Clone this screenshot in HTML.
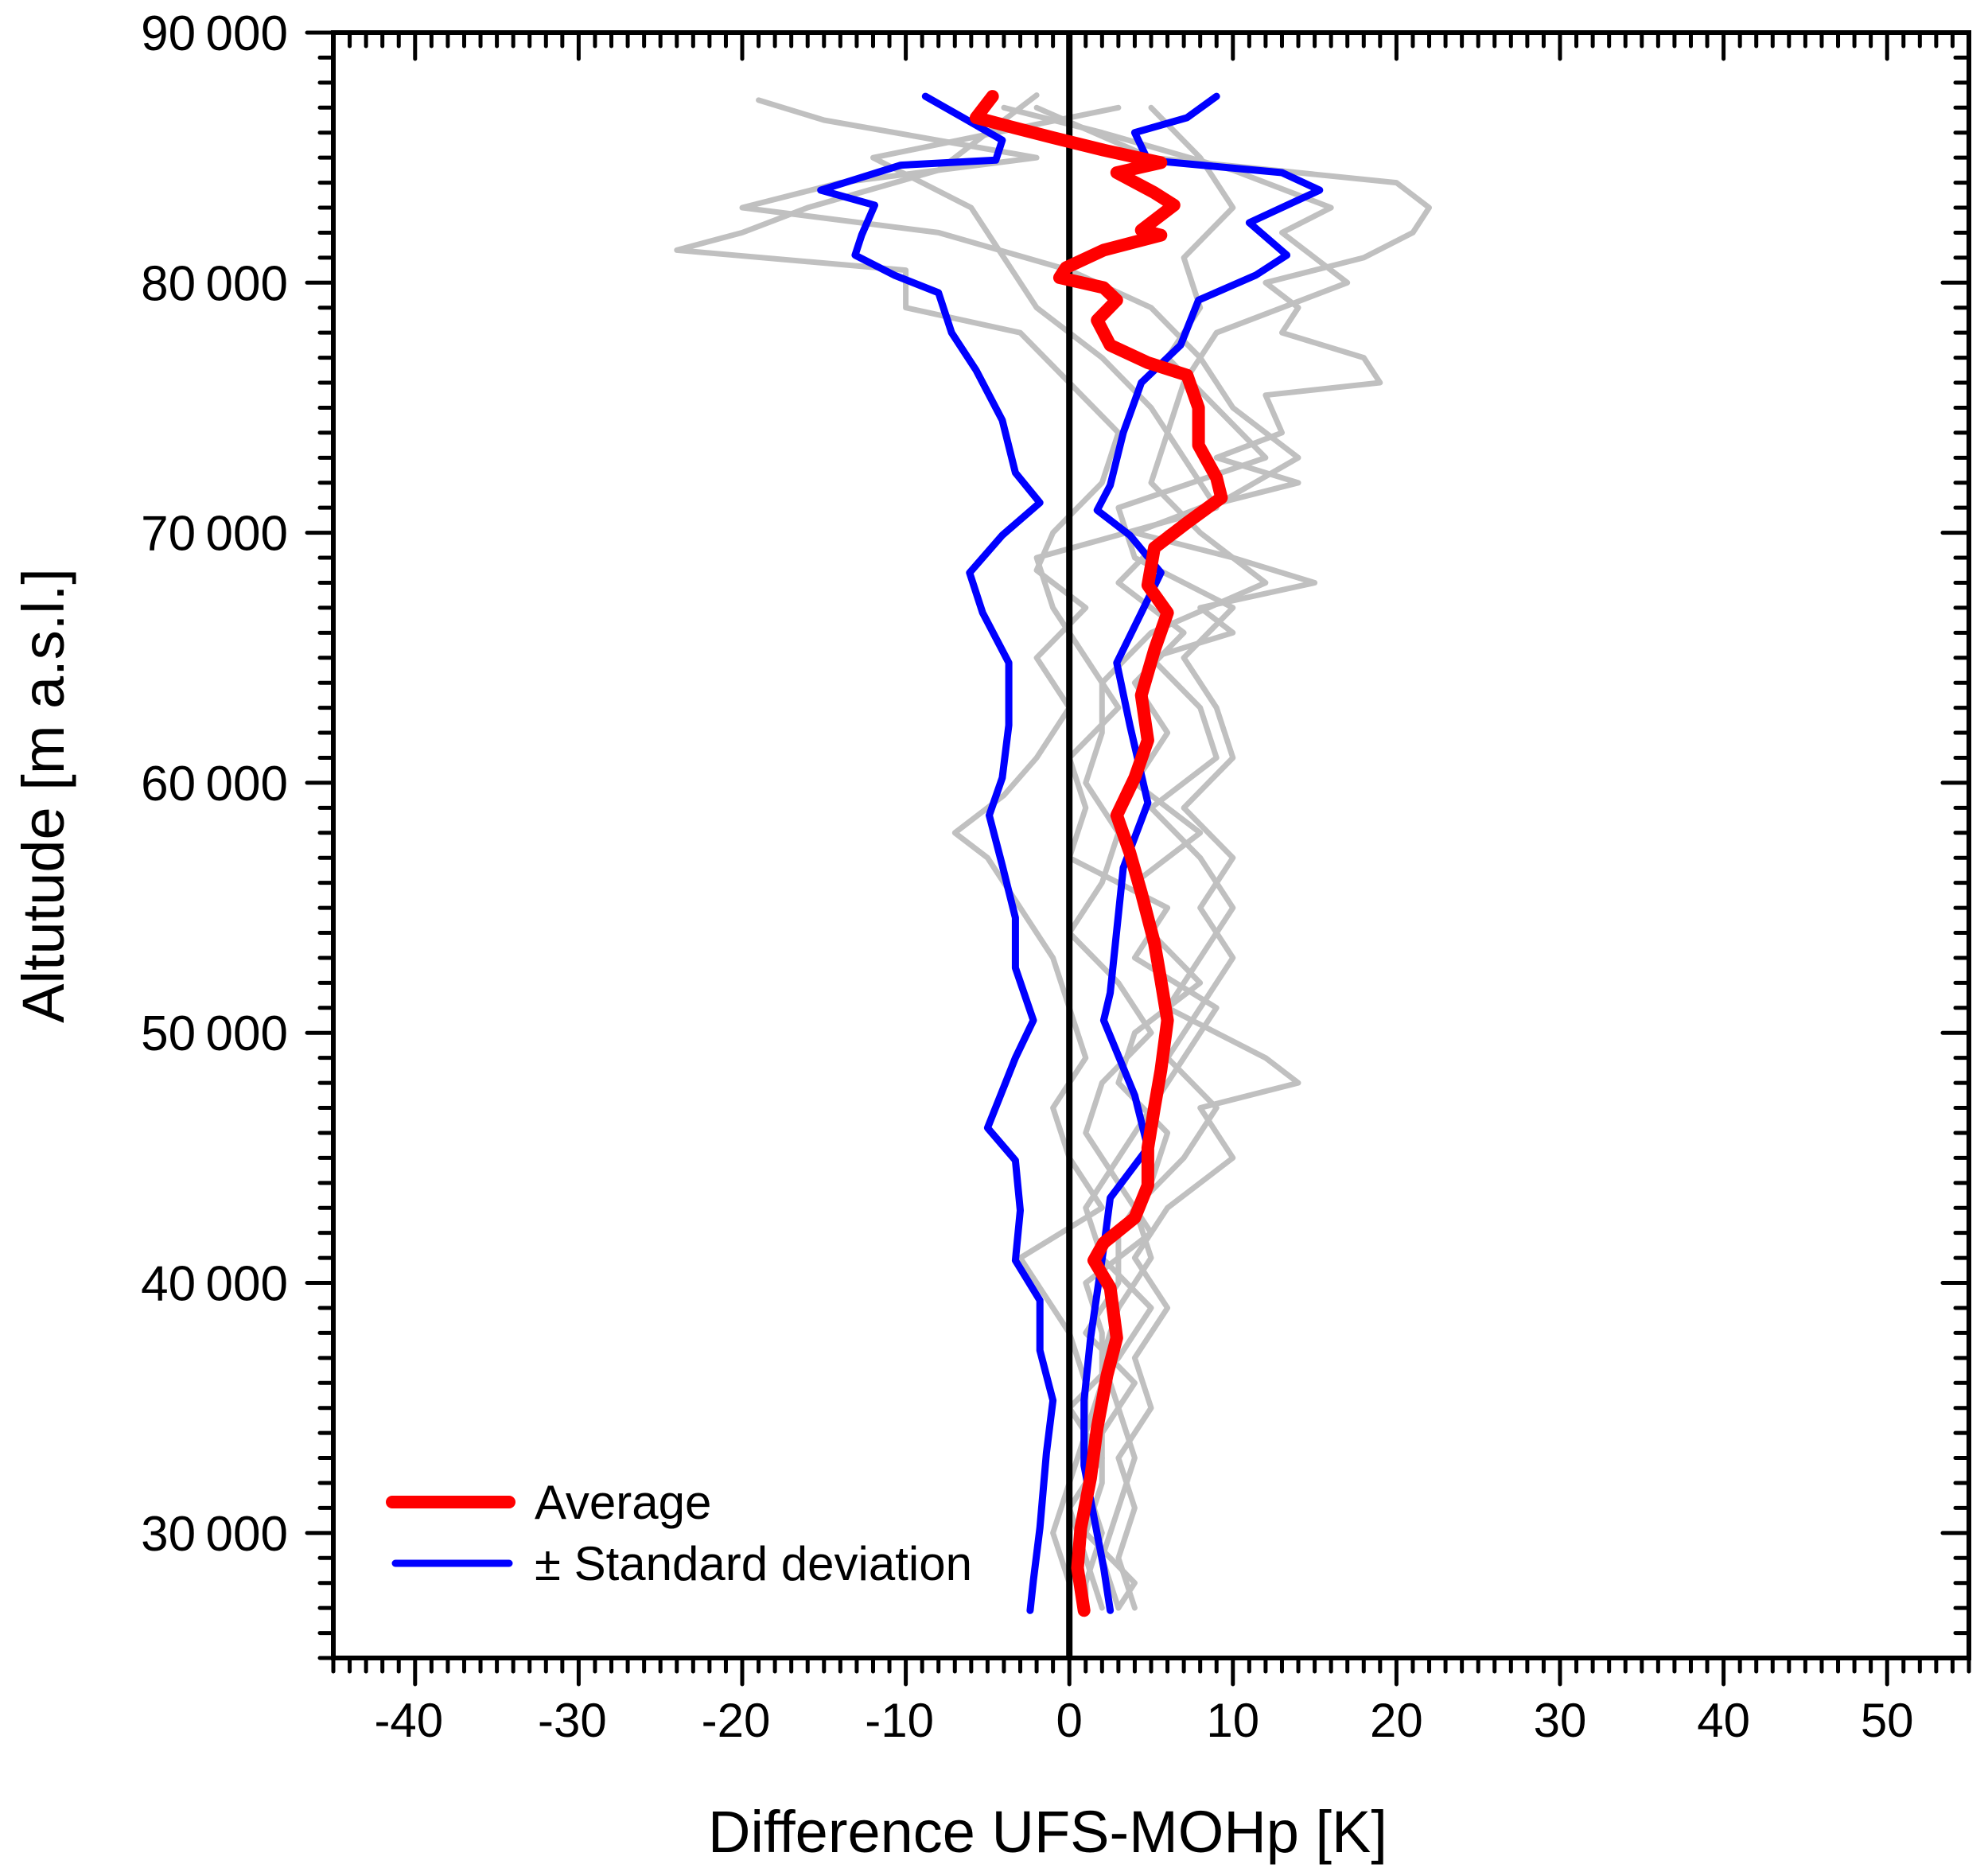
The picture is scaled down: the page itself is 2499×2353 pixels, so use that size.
<!DOCTYPE html>
<html><head><meta charset="utf-8"><style>
html,body{margin:0;padding:0;background:#fff;}
svg{display:block;font-family:"Liberation Sans",Arial,sans-serif;}
</style></head><body>
<svg id="chart" width="2499" height="2353" viewBox="0 0 2499 2353" xmlns="http://www.w3.org/2000/svg">
<g id="grays"></g>
<g id="zero"></g>
<g id="series"></g>
<g id="axes"></g>
<g id="legend">
  <line x1="493" y1="1888" x2="640" y2="1888" stroke="#ff0000" stroke-width="16" stroke-linecap="round"/>
  <text x="672" y="1909" font-size="60">Average</text>
  <line x1="497" y1="1965" x2="640" y2="1965" stroke="#0000ff" stroke-width="9" stroke-linecap="round"/>
  <text x="672" y="1986" font-size="60">± Standard deviation</text>
</g>
<text x="1317" y="2328" font-size="74" text-anchor="middle">Difference UFS-MOHp [K]</text>
<text transform="translate(80,1000) rotate(-90)" font-size="74" text-anchor="middle">Altutude [m a.s.l.]</text>
</svg>
<script>
const xTicks = [-40,-30,-20,-10,0,10,20,30,40,50];
const yTicks = [30000,40000,50000,60000,70000,80000,90000];
const avgAlt = [87.45,86.6,86.2,85.8,85.3,84.8,84.4,83.6,83.1,82.1,81.9,81.3,80.6,80.2,79.8,79.3,78.5,77.5,76.8,76.3,75,73.5,72.2,71.4,70.4,69.4,67.9,66.8,65.3,63.5,61.7,60.2,58.7,57.2,55.6,53.6,52.1,50.5,48.5,47,45.4,43.9,42.6,41.6,40.9,39.8,37.8,36.3,34.2,32.2,30.2,28.6,26.9];
const avgVal = [-4.7,-5.7,-3.4,-1,2.1,5.6,2.9,5.2,6.4,4.4,5.6,2.1,-0.2,-0.6,2.1,2.9,1.7,2.5,4.8,7.2,7.9,7.9,9.0,9.3,7.2,5.2,4.8,6,5.2,4.4,4.8,4,2.9,3.7,4.4,5.2,5.6,6,5.6,5.2,4.8,4.8,4,2.1,1.5,2.5,2.9,2.3,1.7,1.3,0.7,0.5,0.9];
const stdLoAlt = [87.45,86.6,85.7,84.9,84.7,83.7,83.1,81.9,81.1,80.3,79.6,78,76.5,74.5,72.4,71.2,69.9,68.4,66.8,64.8,62.3,60.2,58.7,56.7,54.6,52.6,50.5,49,46.2,44.9,42.9,40.9,39.3,37.3,35.3,33.2,30.2,28.1,26.9];
const stdLoVal = [-8.8,-6.5,-4.1,-4.5,-10.3,-15.2,-11.9,-12.7,-13.1,-10.7,-8,-7.2,-5.7,-4.1,-3.3,-1.8,-4.1,-6.1,-5.3,-3.7,-3.7,-4.1,-4.9,-4.1,-3.3,-3.3,-2.2,-3.3,-5,-3.3,-3,-3.3,-1.8,-1.8,-1,-1.4,-1.8,-2.2,-2.4];
const stdHiAlt = [87.45,86.6,86,84.9,84.4,83.7,82.4,81.1,80.3,79.3,77.5,76,74,71.9,70.9,69.9,68.4,66.8,64.8,62.3,59.2,56.6,54.1,51.6,50.5,47.5,45.4,43.4,41.4,37.8,35.3,32.7,28.6,26.9];
const stdHiVal = [9,7.2,4,4.8,13,15.3,11,13.3,11.4,7.9,6.8,4.4,3.3,2.5,1.7,3.7,5.6,4.4,2.9,3.7,4.8,3.3,2.9,2.5,2.1,4,4.8,2.5,2.1,1.3,0.9,0.9,2.1,2.5];
const g1Alt = [87,85,84,83,82,81,80,79,78,77,76,75.5,74,73,72,71,70,69,68,67,66,65,63,61,59,57,55,53,51,49,48,47,45,43,41,39,37,35,33,31,29,27];
const g1Val = [-2,5,20,22,21,18,12,14,13,18,19,12,13,9,14,8,4,10,15,8,10,5,8,9,5,8,10,8,6,12,14,8,10,6,4,6,4,5,3,4,3,4];
const g2Alt = [87.5,86,84.5,83,82,81.3,80.5,79,78,76,74,72,70,68.5,67,65,63,61,59.5,58,57,55,53,51,49,47,45,43,41,40,38,36,34,32,30,28,27];
const g2Val = [-2,-5,-8,-16,-20,-24,-10,-10,-3,0,3,2,-1,-2,1,-2,0,-2,-4,-7,-5,-3,-1,0,1,-1,0,2,-3,-2,0,1,1,0,-1,0,0];
const g3Alt = [87.3,86.5,85,84,83,82,80.5,79,77,75,73,71.5,70,68,66,64,62,60,58,56,54,52,50,48,46,44,42,40,38,36,34,32,30,28,27];
const g3Val = [-19,-15,-2,-14,-20,-8,0,5,8,10,14,10,6,3,7,4,6,4,8,4,5,8,4,3,6,5,3,3,1,4,2,2,1,4,3];
const g4Alt = [87,86,84.5,83,82,80,78,76,74,72,70,68,66,64,62,60,58,56,54,52,50,48,46,44,42,40,38,36,34,32,30,28,27];
const g4Val = [-4,2,10,16,13,17,9,7,6,5,8,12,5,2,2,1,3,2,0,3,5,2,1,3,5,1,2,2,1,1,2,1,1];
const g5Alt = [87,85,83,81,79,77,75,73,71,69,67,65,63,61,59,57,55,53,51,49,47,45,43,41,39,37,35,33,31,29,27];
const g5Val = [3,-12,-6,-4,-2,2,5,7,9,-2,-1,1,3,0,1,0,6,4,9,7,5,3,1,2,5,3,0,2,0,1,2];
const g6Alt = [87,85,83,81,79,77,75,73,71,69,67,65,63,61,59,57,55,53,51,49,47,45,43,41,39,37,35,33,31,29,27];
const g6Val = [5,8,10,7,8,6,9,12,3,4,10,7,9,10,7,10,8,10,8,6,9,7,4,5,3,2,3,4,3,2,3];

const L=419,R=2475,T=41,B=2084,XMIN=-45,XMAX=55,YMIN=25000,YMAX=90000;
const sx=v=>L+(v-XMIN)/(XMAX-XMIN)*(R-L);
const sy=v=>B-(v-YMIN)/(YMAX-YMIN)*(B-T);
const NS='http://www.w3.org/2000/svg';
function mk(tag,attrs,parent){const e=document.createElementNS(NS,tag);for(const k in attrs)e.setAttribute(k,attrs[k]);parent.appendChild(e);return e;}
function pathOf(alt,val){return alt.map((a,i)=>(i?'L':'M')+sx(val[i]).toFixed(1)+','+sy(a*1000).toFixed(1)).join(' ');}
const grays=document.getElementById('grays');
const gs=[[g1Alt,g1Val],[g2Alt,g2Val],[g3Alt,g3Val],[g4Alt,g4Val],[g5Alt,g5Val],[g6Alt,g6Val]];
gs.forEach((s,i)=>{
  const p=mk('path',{d:pathOf(s[0],s[1]),fill:'none',stroke:'#c0c0c0','stroke-width':7,'stroke-linejoin':'round','stroke-linecap':'round'},grays);
  
  
});
const z=mk('line',{x1:sx(0),x2:sx(0),y1:T,y2:B,stroke:'#000','stroke-width':8},document.getElementById('zero'));


const ser=document.getElementById('series');
const lo=mk('path',{d:pathOf(stdLoAlt,stdLoVal),fill:'none',stroke:'#0000ff','stroke-width':9,'stroke-linejoin':'round','stroke-linecap':'round'},ser);


const hi=mk('path',{d:pathOf(stdHiAlt,stdHiVal),fill:'none',stroke:'#0000ff','stroke-width':9,'stroke-linejoin':'round','stroke-linecap':'round'},ser);


const av=mk('path',{d:pathOf(avgAlt,avgVal),fill:'none',stroke:'#ff0000','stroke-width':16,'stroke-linejoin':'round','stroke-linecap':'round'},ser);



const ax=document.getElementById('axes');
const fr=mk('rect',{x:L,y:T,width:R-L,height:B-T,fill:'none',stroke:'#000','stroke-width':6},ax);


let d='';
for(let v=XMIN;v<=XMAX;v++){const x=sx(v);const maj=v%10===0;const len=maj?33:17;
  d+=`M${x},${B} L${x},${B+len} M${x},${T} L${x},${T+len} `;}
for(let a=YMIN;a<=YMAX;a+=1000){const y=sy(a);const maj=a%10000===0;const len=maj?33:17;
  d+=`M${L},${y} L${L-len},${y} M${R},${y} L${R-len},${y} `;}
const tk=mk('path',{d:d,stroke:'#000','stroke-width':5,'stroke-linecap':'round',fill:'none'},ax);


xTicks.forEach(v=>{
  const t=mk('text',{x:sx(v)-(v<0?8:0),y:2183,'font-size':60,'text-anchor':'middle'},ax);
  t.textContent=String(v);
  
  
});
yTicks.forEach(v=>{
  const t=mk('text',{x:362,y:sy(v)+22,'font-size':62,'text-anchor':'end'},ax);
  t.textContent=String(v/1000)+'\u2009000';
  
  
});
</script>
</body></html>
